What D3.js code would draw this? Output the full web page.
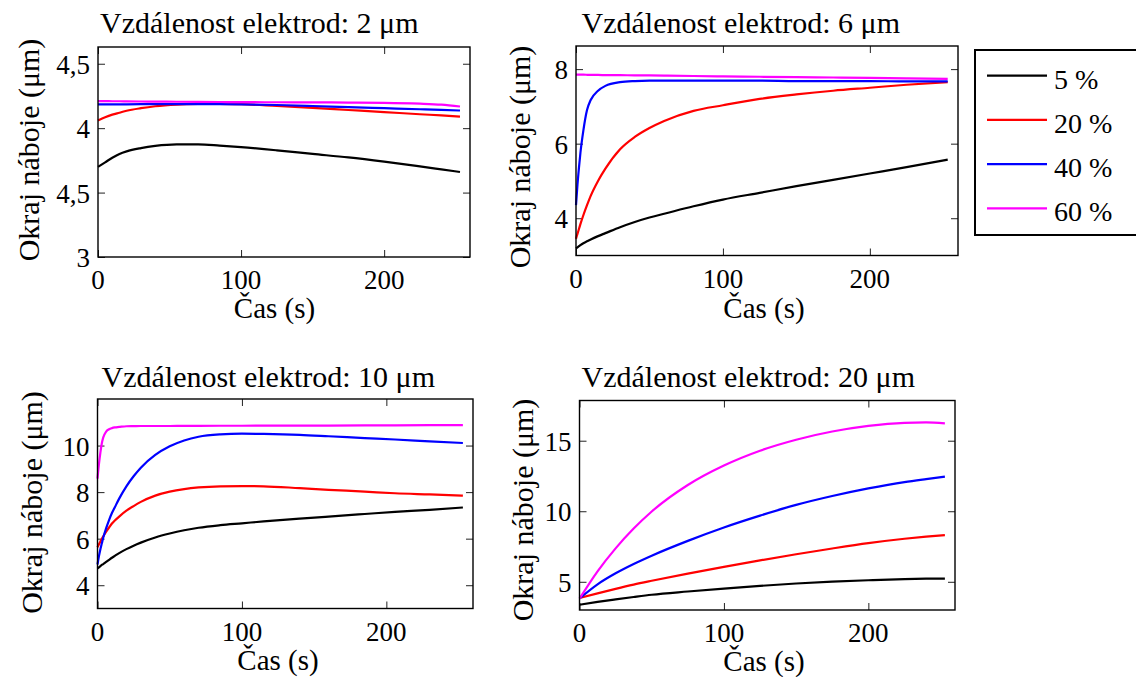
<!DOCTYPE html>
<html>
<head>
<meta charset="utf-8">
<script src="https://cdn.jsdelivr.net/npm/d3@7"></script>
</head>
<body style="margin:0">
<svg id="chart" width="1136" height="677"></svg>
<script>
// ---- series (concentration) ----
const seriesNames  = ["5 %", "20 %", "40 %", "60 %"];
const seriesColors = ["#000000", "#ff0000", "#0000ff", "#ff00ff"];

// ---- shared x axis ----
const xTicks = [0, 100, 200];
const xLabel = "Čas (s)";
const yLabel = "Okraj náboje (μm)";

// ---- electrode gap 2 μm ----
const time2  = [0, 5, 10, 15, 20, 30, 40, 55, 70, 85, 100, 125, 150, 175, 200, 225, 240, 253];
const gap2_5  = [3.70, 3.735, 3.77, 3.80, 3.82, 3.845, 3.862, 3.874, 3.874, 3.865, 3.853, 3.828, 3.80, 3.773, 3.74, 3.703, 3.68, 3.66];
const gap2_20 = [4.06, 4.085, 4.105, 4.12, 4.135, 4.155, 4.17, 4.183, 4.188, 4.189, 4.186, 4.172, 4.157, 4.141, 4.125, 4.108, 4.099, 4.09];
const gap2_40 = [4.184, 4.184, 4.185, 4.185, 4.185, 4.186, 4.186, 4.186, 4.186, 4.186, 4.185, 4.18, 4.172, 4.163, 4.155, 4.147, 4.142, 4.137];
const gap2_60 = [4.21, 4.21, 4.209, 4.209, 4.208, 4.207, 4.206, 4.205, 4.204, 4.203, 4.202, 4.201, 4.2, 4.199, 4.197, 4.19, 4.182, 4.168];
const yTicks2 = [3, 3.5, 4, 4.5];
const yTickLabels2 = ["3", "4,5", "4", "4,5"];

// ---- electrode gap 6 μm ----
const time6  = [0, 1, 2, 3, 5, 7.5, 10, 15, 20, 30, 40, 50, 60, 80, 100, 125, 150, 175, 200, 225, 253];
const gap6_5  = [3.19, 3.22, 3.25, 3.28, 3.33, 3.38, 3.43, 3.52, 3.6, 3.76, 3.9, 4.02, 4.12, 4.32, 4.5, 4.68, 4.86, 5.03, 5.2, 5.37, 5.57];
const gap6_20 = [3.45, 3.58, 3.71, 3.84, 4.08, 4.35, 4.6, 5.0, 5.33, 5.85, 6.18, 6.42, 6.61, 6.88, 7.03, 7.2, 7.32, 7.42, 7.5, 7.58, 7.65];
const gap6_40 = [4.35, 4.9, 5.35, 5.75, 6.35, 6.9, 7.17, 7.42, 7.55, 7.65, 7.68, 7.69, 7.69, 7.69, 7.69, 7.69, 7.68, 7.68, 7.68, 7.67, 7.67];
const gap6_60 = [7.85, 7.85, 7.85, 7.85, 7.85, 7.848, 7.845, 7.843, 7.84, 7.837, 7.833, 7.83, 7.825, 7.815, 7.806, 7.795, 7.785, 7.775, 7.763, 7.752, 7.74];
const yTicks6 = [4, 6, 8];

// ---- electrode gap 10 μm ----
const time10 = [0, 1, 2, 3, 4, 6, 8, 10, 12, 15, 20, 25, 30, 40, 50, 60, 70, 85, 100, 115, 140, 160, 185, 206, 230, 253];
const gap10_5  = [4.72, 4.77, 4.82, 4.87, 4.91, 5.0, 5.09, 5.18, 5.26, 5.38, 5.55, 5.7, 5.83, 6.05, 6.22, 6.36, 6.47, 6.58, 6.66, 6.74, 6.86, 6.95, 7.06, 7.15, 7.24, 7.34];
const gap10_20 = [5.63, 5.76, 5.88, 6.0, 6.1, 6.3, 6.48, 6.65, 6.78, 6.95, 7.2, 7.4, 7.58, 7.85, 8.02, 8.13, 8.2, 8.25, 8.26, 8.25, 8.17, 8.1, 8.02, 7.95, 7.9, 7.85];
const gap10_40 = [4.89, 5.25, 5.55, 5.8, 6.05, 6.45, 6.8, 7.1, 7.35, 7.72, 8.25, 8.68, 9.05, 9.6, 9.97, 10.22, 10.38, 10.48, 10.51, 10.5, 10.46, 10.40, 10.32, 10.26, 10.18, 10.11];
const gap10_60 = [8.58, 9.2, 9.7, 10.1, 10.35, 10.6, 10.7, 10.75, 10.78, 10.8, 10.83, 10.835, 10.84, 10.84, 10.84, 10.845, 10.845, 10.85, 10.85, 10.855, 10.86, 10.86, 10.865, 10.87, 10.875, 10.88];
const yTicks10 = [4, 6, 8, 10];

// ---- electrode gap 20 μm ----
const time20 = [0, 12.5, 25, 37.5, 50, 75, 100, 125, 150, 175, 200, 225, 240, 253];
const gap20_5  = [3.37, 3.57, 3.75, 3.92, 4.08, 4.31, 4.52, 4.71, 4.88, 5.01, 5.11, 5.19, 5.22, 5.23];
const gap20_20 = [3.85, 4.18, 4.5, 4.8, 5.07, 5.58, 6.06, 6.52, 6.95, 7.36, 7.74, 8.05, 8.2, 8.31];
const gap20_40 = [3.82, 4.82, 5.6, 6.26, 6.85, 7.9, 8.85, 9.69, 10.45, 11.08, 11.62, 12.07, 12.28, 12.45];
const gap20_60 = [3.8, 5.74, 7.37, 8.77, 9.98, 11.86, 13.24, 14.29, 15.07, 15.65, 16.05, 16.27, 16.3, 16.23];
const yTicks20 = [5, 10, 15];

// ---- panel layout ----
const panels = [
  { title: "Vzdálenost elektrod: 2 μm", time: time2, series: [gap2_5, gap2_20, gap2_40, gap2_60],
    yDomain: [3, 4.63], yTicks: yTicks2, yTickLabels: yTickLabels2,
    box: { l: 98, r: 470, t: 47, b: 257 },
    titlePos: [100, 33], xLabPos: [274.5, 318], yLabPos: [39, 150] },
  { title: "Vzdálenost elektrod: 6 μm", time: time6, series: [gap6_5, gap6_20, gap6_40, gap6_60],
    yDomain: [3, 8.62], yTicks: yTicks6, yTickLabels: null,
    box: { l: 576, r: 958, t: 46, b: 255.5 },
    titlePos: [581.5, 33], xLabPos: [764, 318], yLabPos: [530, 157] },
  { title: "Vzdálenost elektrod: 10 μm", time: time10, series: [gap10_5, gap10_20, gap10_40, gap10_60],
    yDomain: [3, 12], yTicks: yTicks10, yTickLabels: null,
    box: { l: 97.5, r: 473, t: 399, b: 608.5 },
    titlePos: [101.5, 387], xLabPos: [278, 670], yLabPos: [42, 502.5] },
  { title: "Vzdálenost elektrod: 20 μm", time: time20, series: [gap20_5, gap20_20, gap20_40, gap20_60],
    yDomain: [3, 17.85], yTicks: yTicks20, yTickLabels: null,
    box: { l: 579.5, r: 955, t: 400.5, b: 610 },
    titlePos: [581.5, 387], xLabPos: [764, 670.5], yLabPos: [533, 510] }
];

const svg = d3.select("#chart");

// text helper: serif face, fixed size
const addText = (parent, str, size) => parent.append("text")
  .style("font-family", '"Liberation Serif"')
  .style("font-size", size + "px")
  .text(str);

panels.forEach(p => {
  const { l, r, t, b } = p.box;
  const x = d3.scaleLinear().domain([0, 260]).range([l, r]);
  const y = d3.scaleLinear().domain(p.yDomain).range([b, t]);
  const g = svg.append("g");

  // inward ticks on all four sides (tick marks only, labels drawn below)
  const tickLen = 7;
  const styleAxis = sel => {
    sel.select(".domain").remove();
    sel.selectAll(".tick line").attr("stroke", "#222").attr("stroke-width", 1);
  };
  g.append("g").attr("transform", `translate(${l},0)`)
    .call(d3.axisLeft(y).tickValues(p.yTicks).tickSize(-tickLen).tickFormat("")).call(styleAxis);
  g.append("g").attr("transform", `translate(${r},0)`)
    .call(d3.axisRight(y).tickValues(p.yTicks).tickSize(-tickLen).tickFormat("")).call(styleAxis);
  g.append("g").attr("transform", `translate(0,${b})`)
    .call(d3.axisBottom(x).tickValues(xTicks).tickSize(-tickLen).tickFormat("")).call(styleAxis);
  g.append("g").attr("transform", `translate(0,${t})`)
    .call(d3.axisTop(x).tickValues(xTicks).tickSize(-tickLen).tickFormat("")).call(styleAxis);

  // tick labels
  p.yTicks.forEach((v, i) => {
    addText(g, p.yTickLabels ? p.yTickLabels[i] : d3.format("d")(v), 27)
      .attr("x", l - 8).attr("y", y(v) + 10).attr("text-anchor", "end");
  });
  xTicks.forEach(v => {
    addText(g, d3.format("d")(v), 27)
      .attr("x", x(v)).attr("y", b + 32).attr("text-anchor", "middle");
  });

  // curves
  const line = d3.line().x(d => x(d[0])).y(d => y(d[1])).curve(d3.curveMonotoneX);
  p.series.forEach((vals, i) => {
    g.append("path")
      .datum(p.time.map((tv, k) => [tv, vals[k]]))
      .attr("d", line)
      .attr("fill", "none")
      .attr("stroke", seriesColors[i])
      .attr("stroke-width", 2.2)
      .attr("stroke-linejoin", "round");
  });

  // frame
  g.append("rect").attr("x", l).attr("y", t).attr("width", r - l).attr("height", b - t)
    .attr("fill", "none").attr("stroke", "#000").attr("stroke-width", 1.4);

  // title and axis labels
  addText(g, p.title, 30).attr("x", p.titlePos[0]).attr("y", p.titlePos[1]);
  addText(g, xLabel, 29).attr("x", p.xLabPos[0]).attr("y", p.xLabPos[1]).attr("text-anchor", "middle");
  addText(g, yLabel, 30).attr("text-anchor", "middle")
    .attr("transform", `translate(${p.yLabPos[0]},${p.yLabPos[1]}) rotate(-90)`);
});

// legend
const legend = svg.append("g");
legend.append("rect").attr("x", 975).attr("y", 50).attr("width", 175).attr("height", 185)
  .attr("fill", "#fff").attr("stroke", "#000").attr("stroke-width", 2);
const legendY = d3.scalePoint().domain(seriesNames).range([75.7, 208.3]);
seriesNames.forEach((name, i) => {
  const yy = legendY(name);
  legend.append("line").attr("x1", 987).attr("x2", 1047).attr("y1", yy).attr("y2", yy)
    .attr("stroke", seriesColors[i]).attr("stroke-width", 2.2);
  addText(legend, name, 28).attr("x", 1054).attr("y", yy + 13);
});
</script>
</body>
</html>
